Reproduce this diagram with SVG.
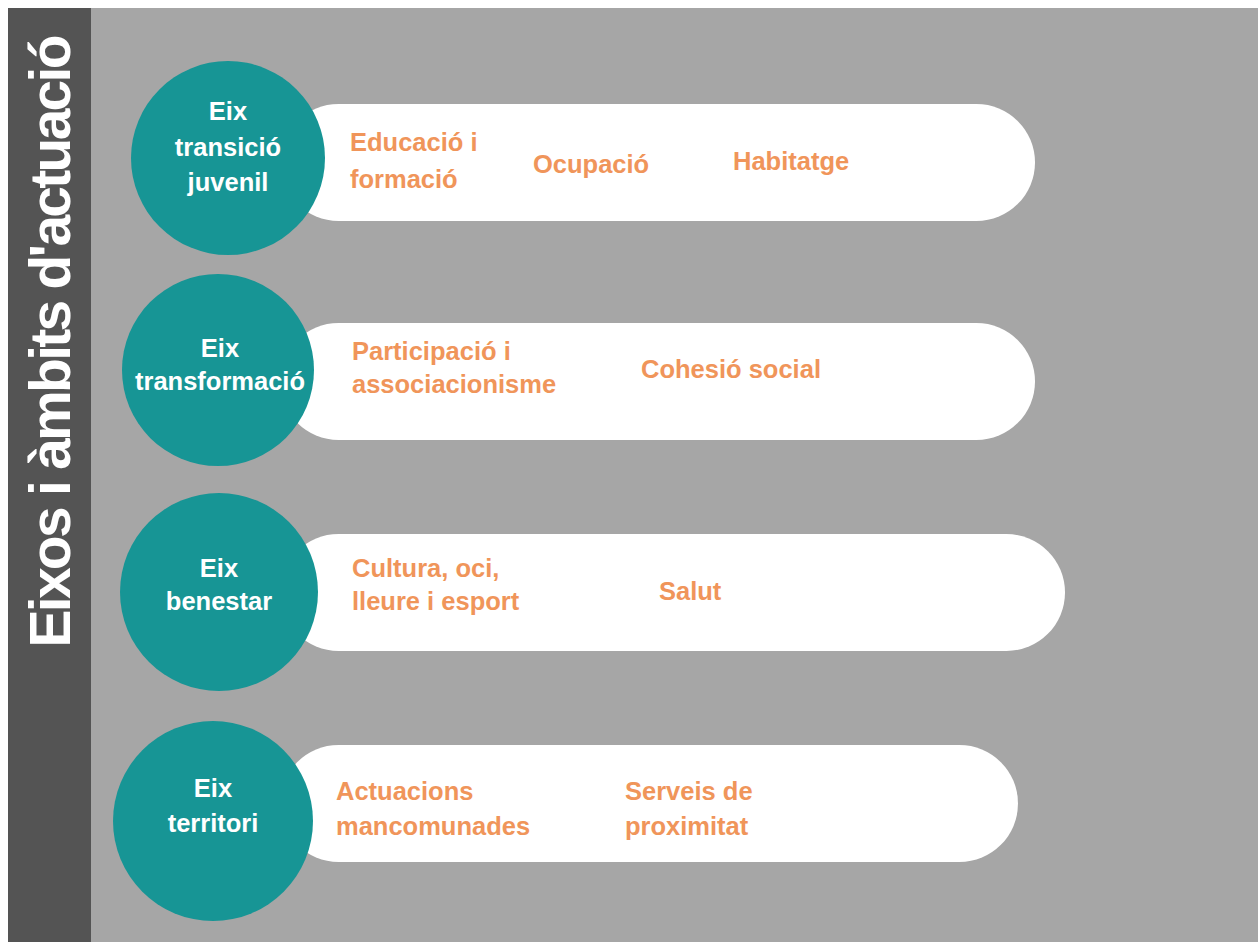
<svg xmlns="http://www.w3.org/2000/svg" width="1258" height="942" viewBox="0 0 1258 942">
<style>
.bg{fill:#a6a6a6}
.band{fill:#545454}
.pill{fill:#ffffff}
.circ{fill:#179595}
.wt{font-family:"Liberation Sans",Arial,sans-serif;font-weight:700;font-size:25.5px;fill:#ffffff;text-anchor:middle}
.ot{font-family:"Liberation Sans",Arial,sans-serif;font-weight:700;font-size:25.5px;fill:#f0955a}
.title{font-family:"Liberation Sans",Arial,sans-serif;font-weight:700;font-size:57px;fill:#ffffff;text-anchor:middle}
</style>
<rect x="0" y="0" width="1258" height="942" fill="#ffffff"/>
<rect class="bg" x="8" y="8" width="1250" height="934"/>
<rect class="band" x="8" y="8" width="83" height="934"/>
<text class="title" transform="translate(70,341) rotate(-90)" textLength="613" lengthAdjust="spacing">Eixos i àmbits d'actuació</text>
<g id="connectors"></g>
<g id="row1">
<rect class="pill" x="280" y="104" width="755" height="117" rx="58.5"/>
<circle class="circ" cx="228" cy="158" r="97"/>
<text class="wt" x="228" y="120">Eix</text>
<text class="wt" x="228" y="156">transició</text>
<text class="wt" x="228" y="191">juvenil</text>
<text class="ot" x="350" y="151">Educació i</text>
<text class="ot" x="350" y="188">formació</text>
<text class="ot" x="533" y="173">Ocupació</text>
<text class="ot" x="733" y="170">Habitatge</text>
</g>
<g id="row2">
<rect class="pill" x="280" y="323" width="755" height="117" rx="58.5"/>
<circle class="circ" cx="218" cy="370" r="96"/>
<text class="wt" x="220" y="357">Eix</text>
<text class="wt" x="220" y="390">transformació</text>
<text class="ot" x="352" y="360">Participació i</text>
<text class="ot" x="352" y="393">associacionisme</text>
<text class="ot" x="641" y="378">Cohesió social</text>
</g>
<g id="row3">
<rect class="pill" x="280" y="534" width="785" height="117" rx="58.5"/>
<circle class="circ" cx="219" cy="592" r="99"/>
<text class="wt" x="219" y="577">Eix</text>
<text class="wt" x="219" y="610">benestar</text>
<text class="ot" x="352" y="577">Cultura, oci,</text>
<text class="ot" x="352" y="610">lleure i esport</text>
<text class="ot" x="659" y="600">Salut</text>
</g>
<g id="row4">
<rect class="pill" x="280" y="745" width="738" height="117" rx="58.5"/>
<circle class="circ" cx="213" cy="821" r="100"/>
<text class="wt" x="213" y="797">Eix</text>
<text class="wt" x="213" y="832">territori</text>
<text class="ot" x="336" y="800">Actuacions</text>
<text class="ot" x="336" y="835">mancomunades</text>
<text class="ot" x="625" y="800">Serveis de</text>
<text class="ot" x="625" y="835">proximitat</text>
</g>
</svg>
